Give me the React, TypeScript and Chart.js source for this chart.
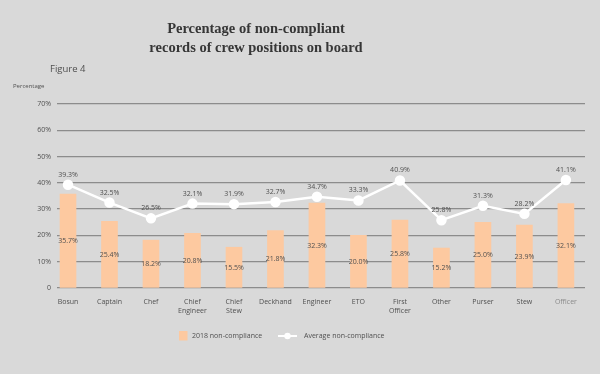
import React, { useEffect, useRef } from "react";
import { Chart, registerables } from "chart.js";

Chart.register(...registerables);

const categories: string[][] = [
  ["Bosun"], ["Captain"], ["Chef"], ["Chief", "Engineer"], ["Chief", "Stew"], ["Deckhand"],
  ["Engineer"], ["ETO"], ["First", "Officer"], ["Other"], ["Purser"], ["Stew"], ["Officer"],
];
const nonCompliance2018 = [35.7, 25.4, 18.2, 20.8, 15.5, 21.8, 32.3, 20.0, 25.8, 15.2, 25.0, 23.9, 32.1];
const averageNonCompliance = [39.3, 32.5, 26.5, 32.1, 31.9, 32.7, 34.7, 33.3, 40.9, 25.8, 31.3, 28.2, 41.1];
const yTicks = [0, 10, 20, 30, 40, 50, 60, 70];

const titleLines = ["Percentage of non-compliant", "records of crew positions on board"];
const figureLabel = "Figure 4";
const yAxisLabel = "Percentage";
const legendLabels = ["2018 non-compliance", "Average non-compliance"];

const BG = "#d9d9d9";
const BAR = "#fdc9a0";
const TEXT = "#505050";
const FONT = "'Open Sans', 'Noto Sans', sans-serif";

export default function App() {
  const ref = useRef<HTMLCanvasElement | null>(null);

  useEffect(() => {
    if (!ref.current) return;
    const fmt = (v: number) => v.toFixed(1) + "%";

    const decor = {
      id: "decor",
      beforeDraw(chart: any) {
        const ctx = chart.ctx;
        ctx.save();
        ctx.fillStyle = BG;
        ctx.fillRect(0, 0, chart.width, chart.height);
        ctx.restore();
      },
      afterDraw(chart: any) {
        const ctx = chart.ctx;
        ctx.save();
        // title
        ctx.fillStyle = "#363636";
        ctx.font = "bold 14.5px 'Liberation Serif', 'DejaVu Serif', serif";
        ctx.textAlign = "center";
        ctx.textBaseline = "alphabetic";
        ctx.fillText(titleLines[0], 256, 33);
        ctx.fillText(titleLines[1], 256, 52);
        // figure label
        ctx.fillStyle = TEXT;
        ctx.font = "9.5px " + FONT;
        ctx.textAlign = "left";
        ctx.fillText(figureLabel, 50, 72);
        ctx.font = "6px " + FONT;
        ctx.fillText(yAxisLabel, 13, 88);

        // value labels
        const bars = chart.getDatasetMeta(0).data;
        const pts = chart.getDatasetMeta(1).data;
        const yScale = chart.scales.y;
        ctx.font = "7px " + FONT;
        ctx.fillStyle = TEXT;
        ctx.textAlign = "center";
        ctx.textBaseline = "middle";
        bars.forEach((b: any, i: number) => {
          const yMid = (b.y + yScale.getPixelForValue(0)) / 2;
          ctx.fillText(fmt(nonCompliance2018[i]), b.x, yMid);
        });
        pts.forEach((p: any, i: number) => {
          ctx.fillText(fmt(averageNonCompliance[i]), p.x, p.y - 10);
        });

        // legend
        const ly = 336;
        ctx.fillStyle = BAR;
        ctx.fillRect(179, ly - 5, 8.5, 9.5);
        ctx.fillStyle = TEXT;
        ctx.font = "7px " + FONT;
        ctx.textAlign = "left";
        ctx.textBaseline = "middle";
        ctx.fillText(legendLabels[0], 192, ly);
        ctx.strokeStyle = "#ffffff";
        ctx.lineWidth = 2;
        ctx.beginPath();
        ctx.moveTo(278, ly);
        ctx.lineTo(297, ly);
        ctx.stroke();
        ctx.fillStyle = "#ffffff";
        ctx.beginPath();
        ctx.arc(287.5, ly, 3.2, 0, Math.PI * 2);
        ctx.fill();
        ctx.fillStyle = TEXT;
        ctx.fillText(legendLabels[1], 304, ly);
        ctx.restore();
      },
    };

    const chart = new Chart(ref.current, {
      type: "bar",
      data: {
        datasets: [
          {
            type: "bar",
            label: legendLabels[0],
            data: nonCompliance2018.map((v, i) => ({ x: i, y: v })),
            backgroundColor: BAR,
            barThickness: 16,
            order: 2,
          } as any,
          {
            type: "line",
            label: legendLabels[1],
            data: averageNonCompliance.map((v, i) => ({ x: i, y: v })),
            borderColor: "#ffffff",
            backgroundColor: "#ffffff",
            borderWidth: 2.5,
            pointRadius: 4,
            pointBackgroundColor: "#ffffff",
            pointBorderColor: "#ffffff",
            tension: 0,
            order: 1,
          } as any,
        ],
      },
      options: {
        animation: false,
        responsive: false,
        maintainAspectRatio: false,
        layout: { padding: { top: 104, right: 15, bottom: 54, left: 0 } },
        plugins: {
          legend: { display: false },
          tooltip: { enabled: false },
          title: { display: false },
        },
        scales: {
          x: {
            type: "linear",
            offset: false,
            min: -0.265,
            max: 12.46,
            grid: { display: false },
            border: { display: false },
            afterBuildTicks: (scale: any) => {
              scale.ticks = categories.map((_, i) => ({ value: i }));
            },
            afterFit: (scale: any) => {
              scale.height = 32;
            },
            ticks: {
              autoSkip: false,
              maxRotation: 0,
              padding: 2,
              color: (c: any) => (c.index === 12 ? "#8a8a8a" : TEXT),
              font: { family: FONT, size: 7 },
              callback: (v: any) => categories[Math.round(Number(v))] ?? "",
            },
          },
          y: {
            min: 0,
            max: 70,
            afterBuildTicks: (scale: any) => {
              scale.ticks = yTicks.map((v) => ({ value: v }));
            },
            afterFit: (scale: any) => {
              scale.width = 57;
            },
            grid: { color: "#8c8c8c", lineWidth: 1.3, drawTicks: false },
            border: { display: false },
            ticks: {
              padding: 6,
              color: TEXT,
              font: { family: FONT, size: 7 },
              callback: (v: any) => (Number(v) === 0 ? "0" : v + "%"),
            },
          },
        },
      } as any,
      plugins: [decor],
    });
    return () => chart.destroy();
  }, []);

  return (
    <div style={{ position: "absolute", left: 0, top: 0, width: 600, height: 374, background: BG }}>
      <canvas ref={ref} width={600} height={374} style={{ display: "block" }} />
    </div>
  );
}
